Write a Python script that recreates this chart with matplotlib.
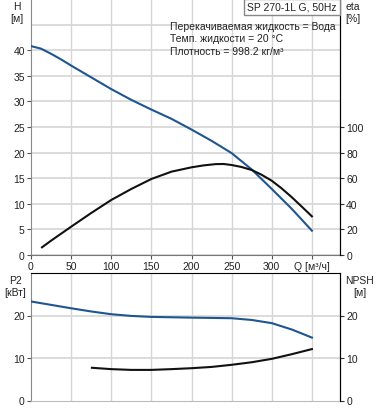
import matplotlib
matplotlib.use('Agg')
import matplotlib.pyplot as plt

plt.rcParams['font.family'] = ['Liberation Sans', 'DejaVu Sans']

# ---------------- data ----------------
q_h = [0, 12.5, 25, 37.5, 50, 75, 100, 125, 150, 175, 200, 225, 250, 275, 300, 325, 350]
h_vals = [40.8, 40.3, 39.3, 38.2, 37.0, 34.7, 32.4, 30.3, 28.4, 26.6, 24.5, 22.3, 19.9, 16.7, 12.9, 9.0, 4.75]

q_eta = [13.7, 25, 50, 75, 100, 125, 150, 175, 200, 215, 230, 240, 250, 262, 275, 287, 300, 312, 325, 337, 350]
eta_vals = [6.0, 11.2, 22.1, 32.8, 43.0, 51.6, 59.4, 65.1, 68.5, 70.0, 71.0, 71.1, 70.3, 68.8, 66.4, 62.8, 58.0, 52.2, 45.1, 38.0, 30.2]

q_p2 = [0, 25, 50, 75, 100, 125, 150, 200, 250, 275, 300, 325, 350]
p2_vals = [23.3, 22.5, 21.7, 20.95, 20.3, 19.9, 19.67, 19.5, 19.36, 18.95, 18.2, 16.7, 14.8]

q_npsh = [75.9, 100, 125, 150, 175, 200, 225, 250, 275, 300, 325, 350]
npsh_vals = [7.7, 7.38, 7.2, 7.2, 7.38, 7.6, 7.9, 8.4, 9.0, 9.8, 10.9, 12.1]

q_ticks = [0, 50, 100, 150, 200, 250, 300, 350]
q_ticklabels = ['0', '50', '100', '150', '200', '250', '300', 'Q [м³/ч]']
h_ticks = [0, 5, 10, 15, 20, 25, 30, 35, 40]
h_grid = [0, 5, 10, 15, 20, 25, 30, 35, 40, 45]
eta_ticks = [0, 20, 40, 60, 80, 100]
p2_ticks = [0, 10, 20]
npsh_ticks = [0, 10, 20]

title = 'SP 270-1L G, 50Hz'
info = ['Перекачиваемая жидкость = Вода', 'Темп. жидкости = 20 °C', 'Плотность = 998.2 кг/м³']

# ---------------- style ----------------
W, H = 378, 410
fs = 7.5
blue = '#1f5590'
black = '#111111'
gridc = '#d6d6d6'
txtc = '#222222'

fig = plt.figure(figsize=(W / 100, H / 100), dpi=100)


def box(l, t, r, b):
    return [l / W, 1 - b / H, (r - l) / W, (b - t) / H]


# ---------------- top axes ----------------
ax1 = fig.add_axes(box(31, 0, 340, 256))
ax1.set_xlim(0, 385)
ax1.set_ylim(0, 50)
for v in h_grid:
    ax1.axhline(v, color=gridc, lw=1.2, zorder=0)
for v in q_ticks[1:]:
    ax1.axvline(v, color=gridc, lw=1.0, zorder=0)
ax1.set_yticks(h_ticks)
ax1.set_xticks(q_ticks)
ax1.set_xticklabels(q_ticklabels)
ax1.tick_params(axis='both', labelsize=fs, length=3, width=0.8, color='#555555',
                labelcolor=txtc, pad=1.5)
ax1.spines['top'].set_visible(False)
ax1.spines['left'].set_color('#888888')
ax1.spines['bottom'].set_color('#777777')
ax1.spines['right'].set_color('black')
ax1.plot(q_h, h_vals, color=blue, lw=1.5, zorder=3)

ax1r = ax1.twinx()
ax1r.set_ylim(0, 200)
ax1r.set_yticks(eta_ticks)
ax1r.tick_params(axis='y', labelsize=fs, length=3, width=0.8, color='#333333',
                 labelcolor=txtc, pad=1.5)
ax1r.spines['top'].set_visible(False)
ax1r.spines['left'].set_visible(False)
ax1r.spines['bottom'].set_visible(False)
ax1r.spines['right'].set_color('black')
ax1r.plot(q_eta, eta_vals, color=black, lw=1.5, zorder=3)

# ---------------- bottom axes ----------------
ax2 = fig.add_axes(box(31, 274, 340, 401.5))
ax2.set_xlim(0, 385)
ax2.set_ylim(0, 30)
for v in p2_ticks[1:]:
    ax2.axhline(v, color=gridc, lw=1.2, zorder=0)
for v in q_ticks[1:]:
    ax2.axvline(v, color=gridc, lw=1.0, zorder=0)
ax2.set_yticks(p2_ticks)
ax2.set_xticks([])
ax2.tick_params(axis='y', labelsize=fs, length=3, width=0.8, color='#555555',
                labelcolor=txtc, pad=1.5)
ax2.spines['top'].set_color('black')
ax2.spines['left'].set_color('#888888')
ax2.spines['bottom'].set_color('#bbbbbb')
ax2.spines['right'].set_color('black')
ax2.plot(q_p2, p2_vals, color=blue, lw=1.5, zorder=3)

ax2r = ax2.twinx()
ax2r.set_ylim(0, 30)
ax2r.set_yticks(npsh_ticks)
ax2r.tick_params(axis='y', labelsize=fs, length=3, width=0.8, color='#333333',
                 labelcolor=txtc, pad=1.5)
for s in ['top', 'left', 'bottom']:
    ax2r.spines[s].set_visible(False)
ax2r.spines['right'].set_color('black')
ax2r.plot(q_npsh, npsh_vals, color=black, lw=1.5, zorder=3)

# ---------------- texts ----------------
def ftext(x, y, s, **kw):
    fig.text(x / W, 1 - y / H, s, fontsize=fs, color=txtc, va='center', **kw)

ftext(17, 7, 'H', ha='center')
ftext(17, 19, '[м]', ha='center')
ftext(353, 7, 'eta', ha='center')
ftext(353, 19, '[%]', ha='center')
ftext(15, 281, 'P2', ha='center')
ftext(15, 293.5, '[кВт]', ha='center')
ftext(360, 281, 'NPSH', ha='center')
ftext(360, 293.5, '[м]', ha='center')

for i, line in enumerate(info):
    ftext(170, 27 + i * 12.5, line, ha='left')

fig.text(292 / W, 1 - 8 / H, title, fontsize=fs, color=txtc, ha='center', va='center',
         bbox=dict(boxstyle='square,pad=0.3', fc='white', ec='#888888', lw=1.0))

fig.savefig('out.png', dpi=100)
